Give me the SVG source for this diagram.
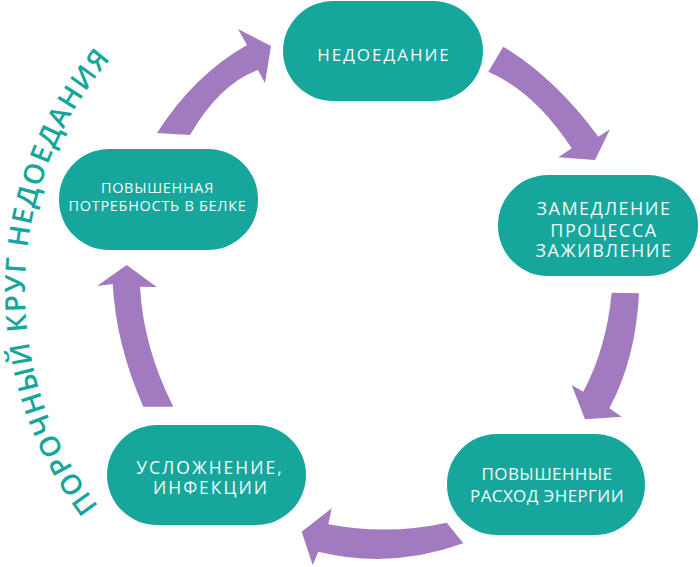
<svg xmlns="http://www.w3.org/2000/svg" width="700" height="567" viewBox="0 0 700 567">
<defs>
<style>
.node{fill:#17a69c;}
.lbl{fill:#f2faf9;font-family:"Open Sans","Noto Sans","Liberation Sans",sans-serif;text-anchor:middle;}
.arr{fill:#a27abf;}
.title{fill:#17a69c;font-family:"Open Sans","Noto Sans","Liberation Sans",sans-serif;font-size:28px;letter-spacing:1.6px;font-weight:600;}
</style>
<path id="arcPath" d="M193.7,592.2 A355,355 0 0 1 211.4,-22.4"/>
</defs>
<rect width="700" height="567" fill="#ffffff"/>
<g id="connectors">
<path class="arr" d="M157,133 Q194,75 247,45 L238,29 L271,46 L265,83 L258,70 Q220,83.5 190,135 Z"/>
<path class="arr" d="M503.3,46.7 Q555,78 598.3,136.7 L610,129.3 L595,160 L558.3,157.3 L571.7,148.3 Q535,92 488.3,71.7 Z"/>
<path class="arr" d="M611.7,292.7 L639,293.3 Q635.8,359.2 609.3,408.3 L621.7,416.7 L585,419.3 L571.7,385 L583.3,391.7 Q606.5,347.8 611.7,292.7 Z"/>
<path class="arr" d="M446.7,522.7 Q388.5,535.5 328.3,524.3 L331.7,508.3 L301.7,531.7 L312.7,565 L318.3,551.7 Q391.2,569.5 463.3,543.3 Z"/>
<path class="arr" d="M143.3,406.7 Q116,344.7 112.7,284 L97,286 L126.7,265 L156.7,287 L140,286.7 Q143.3,347.3 173.3,406.7 Z"/>
</g>
<g id="node-nedoedanie">
<rect class="node" x="283" y="1" width="200" height="100" rx="50"/>
<text class="lbl" x="384" y="60.5" font-size="17" letter-spacing="2">НЕДОЕДАНИЕ</text>
</g>
<g id="node-zamedlenie">
<rect class="node" x="498" y="175" width="200" height="101" rx="50"/>
<text class="lbl" x="604" y="215" font-size="18" letter-spacing="1.5">ЗАМЕДЛЕНИЕ</text>
<text class="lbl" x="604" y="236.5" font-size="18" letter-spacing="1.5">ПРОЦЕССА</text>
<text class="lbl" x="604" y="257.3" font-size="18" letter-spacing="1.5">ЗАЖИВЛЕНИЕ</text>
</g>
<g id="node-rashod">
<rect class="node" x="447" y="434" width="198" height="101" rx="50"/>
<text class="lbl" x="547" y="480" font-size="17" letter-spacing="0.4">ПОВЫШЕННЫЕ</text>
<text class="lbl" x="547" y="501.7" font-size="17" letter-spacing="0.4">РАСХОД ЭНЕРГИИ</text>
</g>
<g id="node-oslozhnenie">
<rect class="node" x="107" y="425" width="199" height="100" rx="50"/>
<text class="lbl" x="210" y="474.3" font-size="17.5" letter-spacing="2">УСЛОЖНЕНИЕ,</text>
<text class="lbl" x="211" y="494.3" font-size="17.5" letter-spacing="2">ИНФЕКЦИИ</text>
</g>
<g id="node-belok">
<rect class="node" x="59" y="149" width="199" height="101" rx="50"/>
<text class="lbl" x="157.5" y="193.3" font-size="14.5" letter-spacing="0.7">ПОВЫШЕННАЯ</text>
<text class="lbl" x="157.5" y="210.7" font-size="14.5" letter-spacing="0.7">ПОТРЕБНОСТЬ В БЕЛКЕ</text>
</g>
<g id="title">
<text class="title"><textPath href="#arcPath" startOffset="50%" text-anchor="middle">ПОРОЧНЫЙ КРУГ НЕДОЕДАНИЯ</textPath></text>
</g>
</svg>
